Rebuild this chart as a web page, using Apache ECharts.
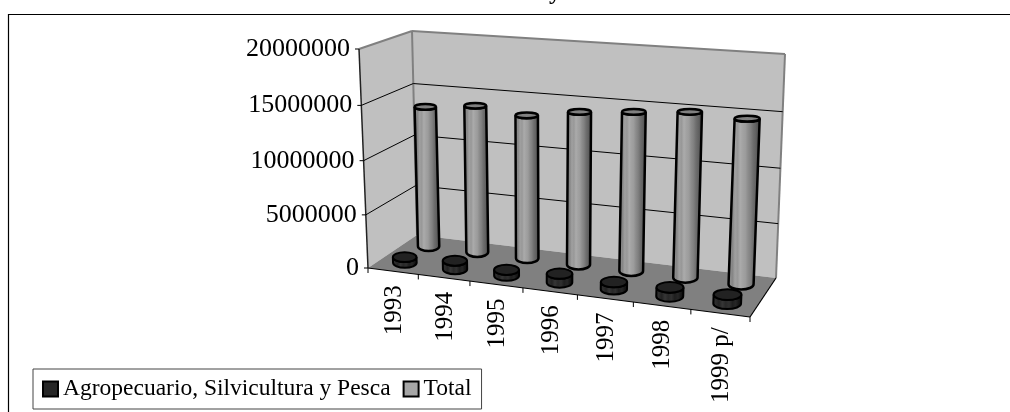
<!DOCTYPE html>
<html>
<head>
<meta charset="utf-8">
<style>html,body{margin:0;padding:0;background:#fff}#main{width:1010px;height:412px}</style>
<script src="https://cdn.jsdelivr.net/npm/echarts@6/dist/echarts.min.js"></script>
</head>
<body>
<div id="main"></div>
<script>
var categories = ['1993', '1994', '1995', '1996', '1997', '1998', '1999 p/'];
var agro = [550000, 800000, 550000, 800000, 650000, 800000, 800000];
var total = [13500000, 14000000, 13500000, 14200000, 14600000, 15000000, 14800000];
var yTicks = [0, 5000000, 10000000, 15000000, 20000000];
var agroName = 'Agropecuario, Silvicultura y Pesca';
var totalName = 'Total';

var serif = '"Liberation Serif", "Times New Roman", serif';

// corners of the chart box on screen: front/back, left/right, bottom/top
var box = {
    flb: [368, 268], frb: [750, 317], blb: [417, 235], brb: [776, 278],
    flt: [359, 49], frt: [761, 78], blt: [412, 31], brt: [785, 54]
};
var warpX = -0.09, warpY = -0.039;

function mix(a, b, k) {
    return [a[0] + (b[0] - a[0]) * k, a[1] + (b[1] - a[1]) * k];
}

// t, v, z all 0..1 -> screen point in the tilted box
function project(t, v, z) {
    var tw = t * (1 + warpX) / (1 + warpX * t);
    var vw = v * (1 + warpY) / (1 + warpY * v);
    var bottom = mix(mix(box.flb, box.frb, tw), mix(box.blb, box.brb, tw), z);
    var top = mix(mix(box.flt, box.frt, tw), mix(box.blt, box.brt, tw), z);
    return mix(bottom, top, vw);
}

// go through the axes, then normalize against the grid rect
function place(api, params, cat, val, z, bandShift) {
    var p = api.coord([cat, val]);
    var rect = params.coordSys;
    var t = (p[0] + (bandShift || 0) * api.size([1, 0])[0] - rect.x) / rect.width;
    var v = (rect.y + rect.height - p[1]) / rect.height;
    return project(t, v, z);
}

function poly(points, fill) {
    return {type: 'polygon', shape: {points: points}, style: {fill: fill}};
}

function seg(a, b, color, width) {
    return {
        type: 'line',
        shape: {x1: a[0], y1: a[1], x2: b[0], y2: b[1]},
        style: {stroke: color, lineWidth: width}
    };
}

function renderWalls() {
    return {
        type: 'group',
        children: [
            poly([box.flb, box.blb, box.blt, box.flt], '#c0c0c0'),
            poly([box.blb, box.brb, box.brt, box.blt], '#c0c0c0'),
            poly([box.flb, box.frb, box.brb, box.blb], '#808080'),
            seg(box.flt, box.blt, '#808080', 2),
            seg(box.blt, box.brt, '#808080', 2),
            seg(box.blt, box.blb, '#808080', 2),
            seg(box.brt, box.brb, '#808080', 2),
            seg(box.flb, box.frb, '#000', 1.2),
            seg(box.frb, box.brb, '#000', 1.2),
            seg(box.flt, box.flb, '#222', 1.5)
        ]
    };
}

function renderYTick(params, api) {
    var val = api.value(0);
    var front = place(api, params, 0, val, 0, -0.5);
    var back = place(api, params, 0, val, 1, -0.5);
    var right = place(api, params, categories.length - 1, val, 1, 0.5);
    var children = [
        seg([front[0] - 4, front[1]], front, '#000', 1),
        {
            type: 'text',
            style: {
                text: String(val), x: front[0] - 9, y: front[1],
                textAlign: 'right', textVerticalAlign: 'middle',
                font: '26px ' + serif, fill: '#000'
            }
        }
    ];
    if (val > 0 && val < yTicks[yTicks.length - 1]) {
        children.push(seg(front, back, '#000', 1));
        children.push(seg(back, right, '#000', 1));
    }
    return {type: 'group', children: children};
}

function renderXTick(params, api) {
    var i = params.dataIndex;
    var mid = place(api, params, i, 0, 0);
    var left = place(api, params, i, 0, 0, -0.5);
    var right = place(api, params, i, 0, 0, 0.5);
    var children = [
        seg(right, [right[0], right[1] + 5], '#000', 1),
        {
            type: 'text',
            x: mid[0] + 1, y: mid[1] + 14,
            rotation: Math.PI / 2,
            style: {
                text: categories[i], x: 0, y: 0,
                textAlign: 'right', textVerticalAlign: 'middle',
                font: '25px ' + serif, fill: '#000'
            }
        }
    ];
    if (i === 0) {
        children.push(seg(left, [left[0], left[1] + 5], '#000', 1));
    }
    return {type: 'group', children: children};
}

function gradient(stops) {
    return new echarts.graphic.LinearGradient(0, 0, 1, 0, stops.map(function (c, i) {
        return {offset: i / (stops.length - 1), color: c};
    }));
}

// banded shading, the old spreadsheet look
var totalSide = ['#7c7c7c', '#8e8e8e', '#868686', '#a0a0a0', '#989898', '#ababab', '#a2a2a2', '#9c9c9c',
    '#8c8c8c', '#808080', '#6e6e6e', '#626262', '#505050', '#444444'];
var agroSide = ['#1c1c1c', '#2e2e2e', '#222222', '#363636', '#282828', '#303030', '#1e1e1e', '#262626', '#141414', '#0e0e0e'];

function ryAt(y) {
    return 2 + (y - 50) * 0.014;
}

function cylinder(z, rxShare, sideStops, topFill, lineWidth) {
    return function (params, api) {
        var i = api.value(0);
        var val = api.value(1);
        var base = place(api, params, i, 0, z);
        var top = place(api, params, i, val, z);
        // width follows the band as drawn on the tilted floor
        var band = place(api, params, i, 0, 0, 0.5)[0] - place(api, params, i, 0, 0, -0.5)[0];
        var rx = band * rxShare;
        var ryB = ryAt(base[1]);
        var ryT = ryAt(top[1]);
        var side = 'M' + (top[0] - rx) + ' ' + top[1] +
            ' L' + (base[0] - rx) + ' ' + base[1] +
            ' A' + rx + ' ' + ryB + ' 0 0 0 ' + (base[0] + rx) + ' ' + base[1] +
            ' L' + (top[0] + rx) + ' ' + top[1] +
            ' A' + rx + ' ' + ryT + ' 0 0 1 ' + (top[0] - rx) + ' ' + top[1] + ' Z';
        return {
            type: 'group',
            children: [
                {
                    type: 'path',
                    shape: {pathData: side},
                    style: {fill: gradient(sideStops), stroke: '#000', lineWidth: lineWidth}
                },
                {
                    type: 'ellipse',
                    shape: {cx: top[0], cy: top[1], rx: rx, ry: ryT},
                    style: {fill: topFill, stroke: '#000', lineWidth: lineWidth}
                }
            ]
        };
    };
}

var chart = echarts.init(document.getElementById('main'));
chart.setOption({
    animation: false,
    backgroundColor: '#fff',
    title: {
        text: 'y',
        left: 549,
        top: -19,
        padding: 0,
        textStyle: {fontFamily: serif, fontWeight: 'bold', fontSize: 24, color: '#000'}
    },
    grid: {left: 0, right: 0, top: 0, bottom: 0},
    xAxis: {type: 'category', data: categories, show: false},
    yAxis: {type: 'value', min: 0, max: 20000000, interval: 5000000, show: false, splitLine: {show: false}},
    legend: {
        data: [agroName, totalName],
        left: 33,
        top: 369,
        padding: [8, 10, 8, 9],
        itemGap: 12,
        itemWidth: 15,
        itemHeight: 15,
        icon: 'rect',
        backgroundColor: '#fff',
        borderColor: '#444',
        borderWidth: 1,
        borderRadius: 0,
        itemStyle: {borderColor: '#000', borderWidth: 2},
        textStyle: {fontFamily: serif, fontSize: 23.5, color: '#000'}
    },
    graphic: [{
        type: 'polyline',
        silent: true,
        shape: {points: [[8.5, 412], [8.5, 14.5], [1010, 14.5]]},
        style: {stroke: '#000', lineWidth: 1.2, fill: null}
    }],
    series: [
        {name: 'walls', type: 'custom', silent: true, renderItem: renderWalls, data: [[0, 0]], encode: {x: 0, y: 1}},
        {
            name: 'yticks', type: 'custom', silent: true, renderItem: renderYTick, encode: {y: 0},
            data: yTicks.map(function (v) { return [v]; })
        },
        {
            name: 'xticks', type: 'custom', silent: true, renderItem: renderXTick, encode: {x: 0, y: 1},
            data: categories.map(function (c, i) { return [i, 0]; })
        },
        {
            name: totalName, type: 'custom', silent: true,
            renderItem: cylinder(0.75, 0.212, totalSide, '#808080', 2.5),
            itemStyle: {color: '#a6a6a6'}, encode: {x: 0, y: 1},
            data: total.map(function (v, i) { return [i, v]; })
        },
        {
            name: agroName, type: 'custom', silent: true,
            renderItem: cylinder(0.25, 0.235, agroSide, '#222222', 2),
            itemStyle: {color: '#262626'}, encode: {x: 0, y: 1},
            data: agro.map(function (v, i) { return [i, v]; })
        }
    ]
});
</script>
</body>
</html>
